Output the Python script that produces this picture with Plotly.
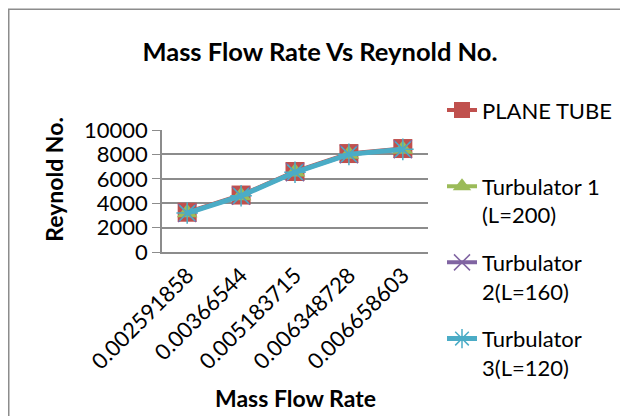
import plotly.graph_objects as go

categories = ["0.002591858", "0.00366544", "0.005183715", "0.006348728", "0.006658603"]
plane_tube = [3260, 4670, 6600, 8070, 8480]
turbulator_1 = [3210, 4620, 6550, 8020, 8430]
turbulator_2 = [3200, 4610, 6540, 8010, 8420]
turbulator_3 = [3195, 4605, 6535, 8005, 8415]
y_ticks = [0, 2000, 4000, 6000, 8000, 10000]
y_tick_text = ["0", "2000", "4000", "6000", "8000", "10000"]

FONT = "Lato"
OFF = 8  # page body margin: figure pixel = page pixel - OFF
W, H = 628, 416
L = 162 - OFF
T = 130 - OFF
R = W - (428 - OFF)
B = H - (252.5 - OFF)
pw, ph = W - L - R, H - T - B

def fx(page_x):
    return (page_x - OFF - L) / pw

def fy(page_y):
    return (H - B - (page_y - OFF)) / ph

fig = go.Figure()
fig.add_trace(go.Scatter(
    x=categories, y=plane_tube, name="PLANE TUBE<br> ", mode="lines+markers",
    legendgroup="g1",
    line=dict(color="#C0504D", width=4),
    marker=dict(symbol="square", size=19, color="#C0504D")))
fig.add_trace(go.Scatter(
    x=categories, y=turbulator_1, name="Turbulator 1<br>(L=200)", mode="lines+markers",
    legendgroup="g2",
    line=dict(color="#9BBB59", width=4),
    marker=dict(symbol="triangle-up", size=18, color="#9BBB59")))
fig.add_trace(go.Scatter(
    x=categories, y=turbulator_2, name="Turbulator<br>2(L=160)", mode="lines+markers",
    legendgroup="g3",
    line=dict(color="#8064A2", width=4),
    marker=dict(symbol="x-thin", size=18, color="#8064A2",
                line=dict(color="#8064A2", width=1.5))))
fig.add_trace(go.Scatter(
    x=categories, y=turbulator_3, name="Turbulator<br>3(L=120)", mode="lines+markers",
    legendgroup="g4",
    line=dict(color="#4BACC6", width=5),
    marker=dict(symbol="asterisk", size=18, color="#4BACC6",
                line=dict(color="#4BACC6", width=1.5))))

fig.update_layout(
    width=W, height=H,
    margin=dict(l=L, r=R, t=T, b=B, autoexpand=False),
    paper_bgcolor="white", plot_bgcolor="white",
    font=dict(family=FONT, size=22, color="black"),
    title=dict(text="Mass Flow Rate Vs Reynold No.", x=(320 - OFF) / W, xanchor="center",
               y=1 - (52 - OFF) / H, yanchor="middle",
               font=dict(family=FONT, size=25.5, weight="bold", color="black")),
    xaxis=dict(type="category", tickangle=-45, showgrid=False, automargin=False,
               showline=True, linecolor="#8C8C8C", linewidth=1.5,
               ticks="", tickfont=dict(family=FONT, size=22)),
    yaxis=dict(range=[0, 10000], tickvals=y_ticks, ticktext=y_tick_text,
               showgrid=True, gridcolor="#8C8C8C", automargin=False,
               gridwidth=1.5, zeroline=False, showline=True, linecolor="#8C8C8C",
               linewidth=1.5, ticks="outside", ticklen=8, tickcolor="#8C8C8C",
               tickfont=dict(family=FONT, size=22)),
    legend=dict(x=fx(434 + OFF), xanchor="left", y=fy(81 + OFF), yanchor="top",
                valign="top", font=dict(family=FONT, size=22), bgcolor="rgba(0,0,0,0)",
                traceorder="grouped", tracegroupgap=16, maxheight=400),
    showlegend=True,
    shapes=[dict(type="rect", xref="paper", yref="paper",
                 x0=fx(OFF + 0.75), x1=fx(660),
                 y0=fy(440), y1=fy(OFF + 0.75),
                 line=dict(color="#8C8C8C", width=1.5), layer="below")],
    annotations=[
        dict(text="Reynold No.", xref="paper", yref="paper", x=fx(54),
             y=fy(180), xanchor="center", yanchor="middle", textangle=-90,
             showarrow=False, font=dict(family=FONT, size=23, weight="bold")),
        dict(text="Mass Flow Rate", xref="paper", yref="paper", x=fx(295),
             y=fy(399), xanchor="center", yanchor="middle",
             showarrow=False, font=dict(family=FONT, size=23, weight="bold")),
    ],
)

fig.write_html("out.html")
